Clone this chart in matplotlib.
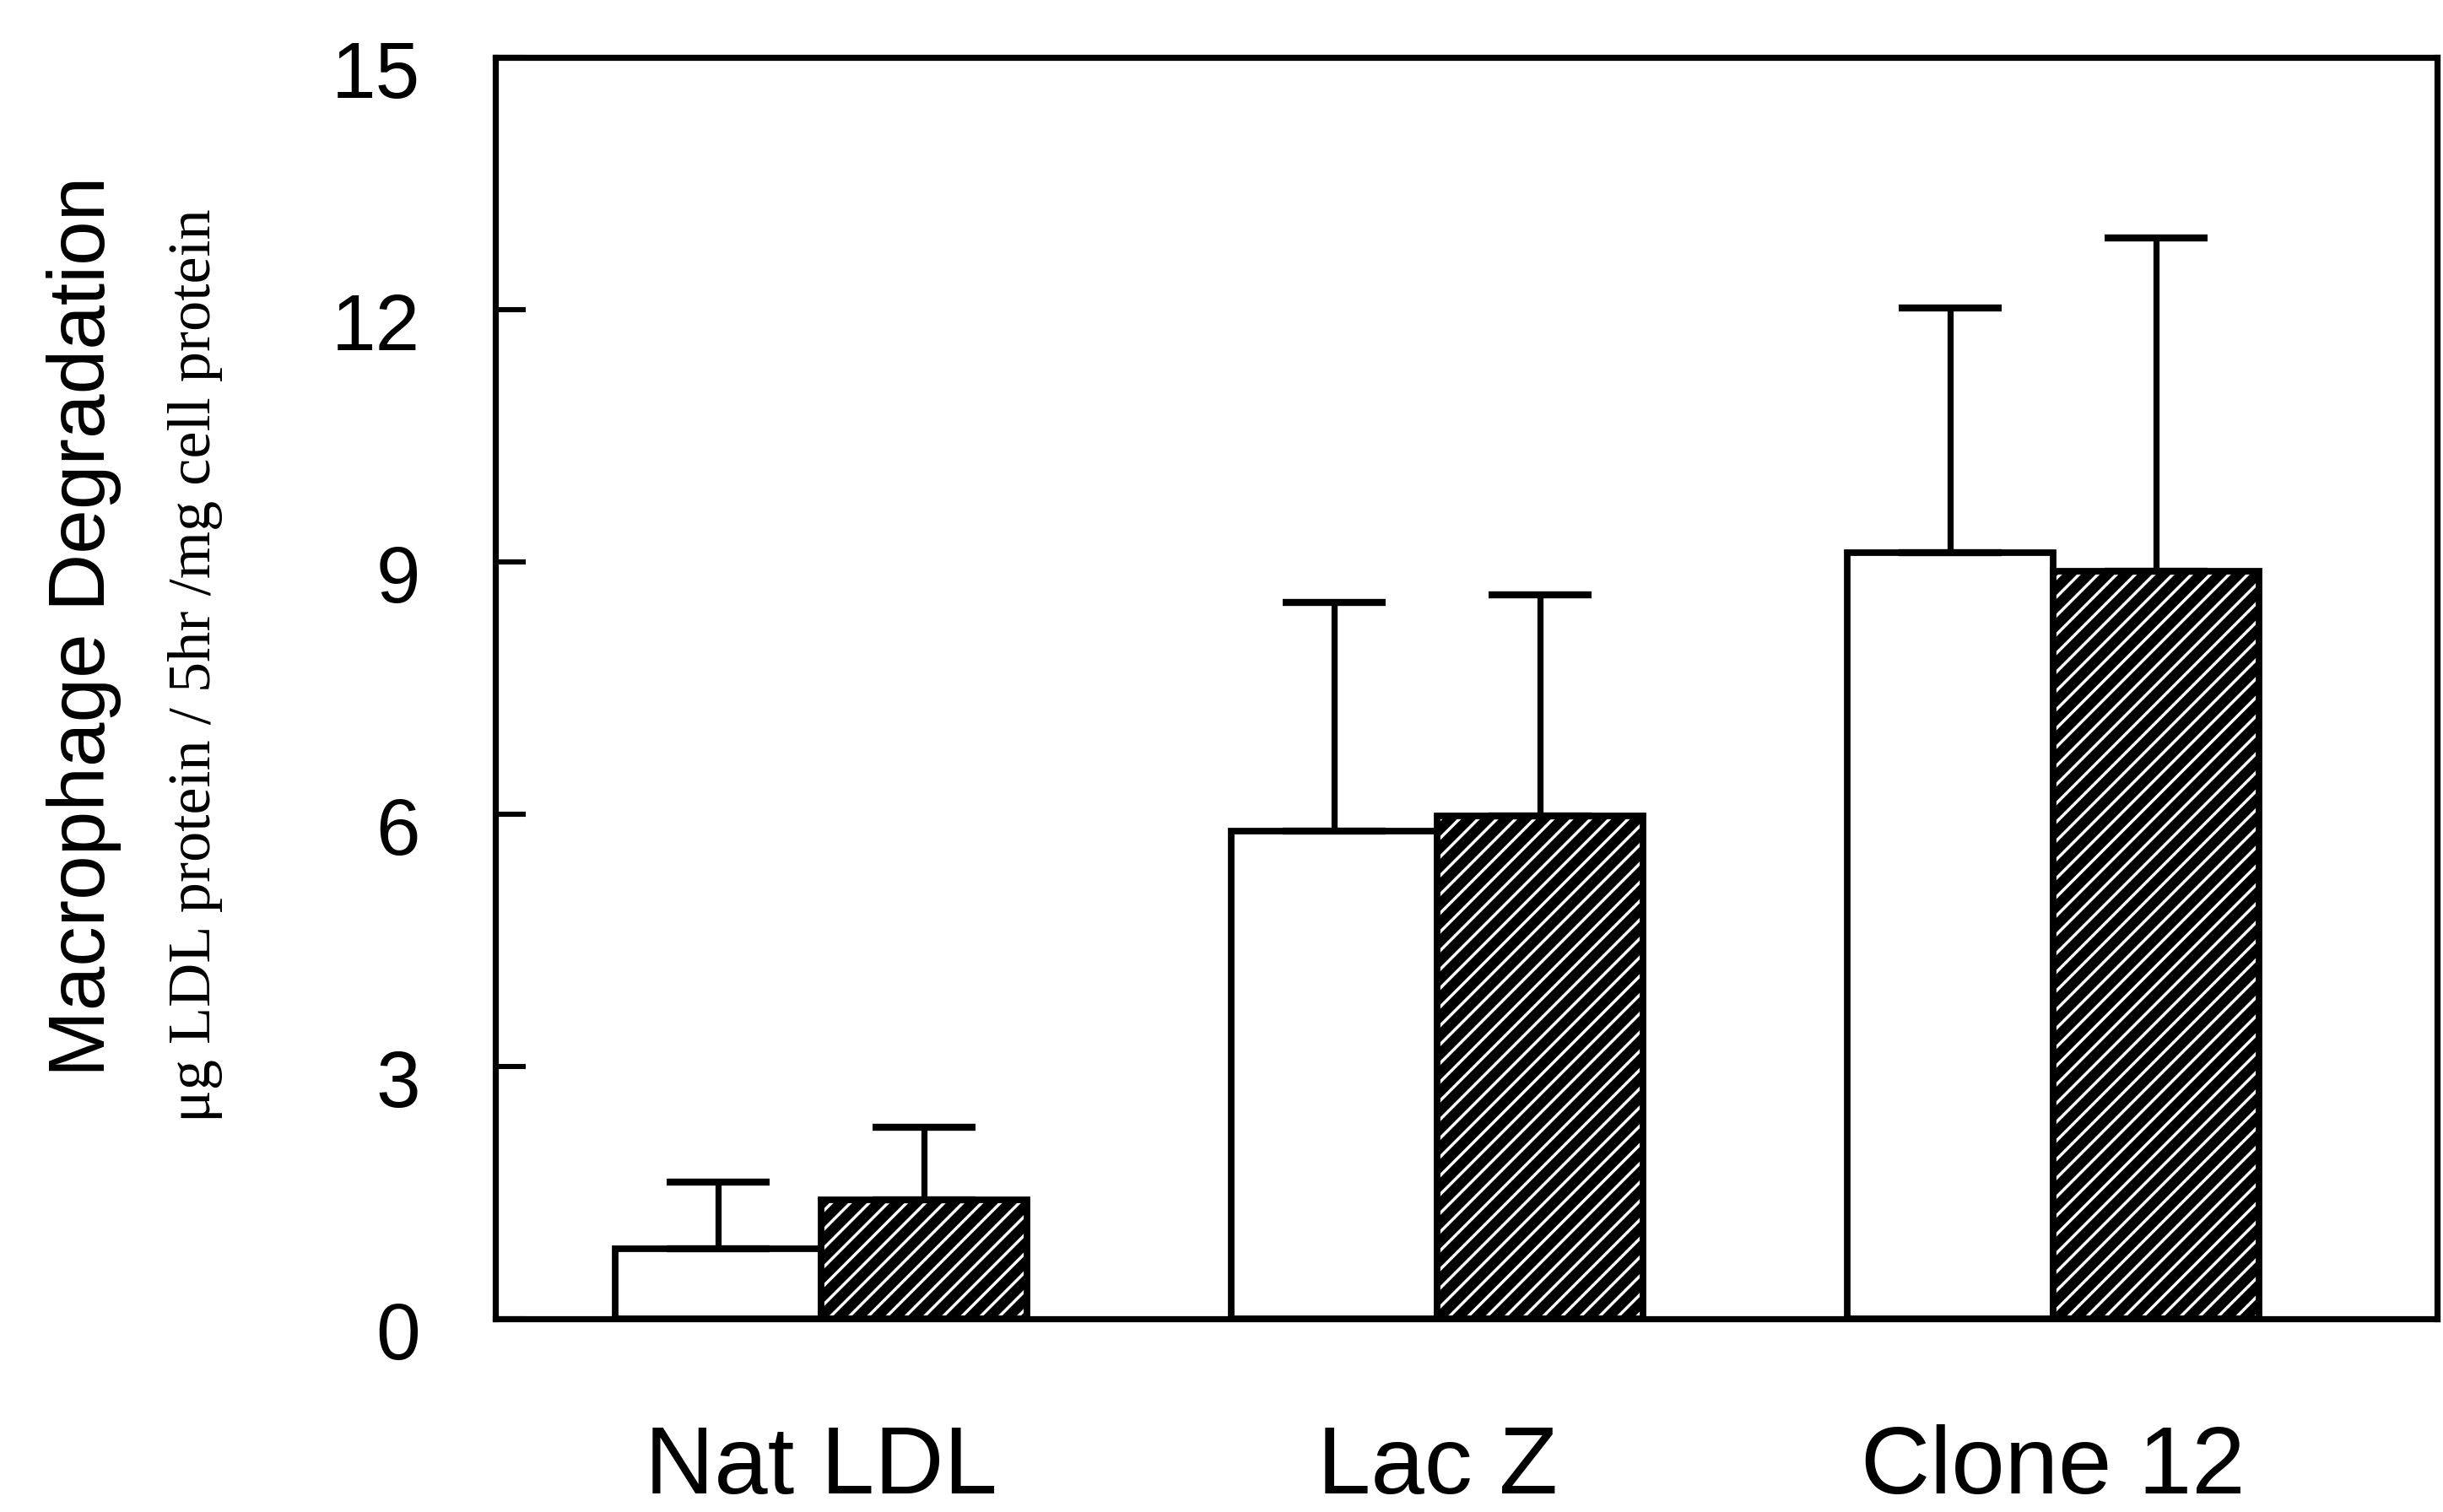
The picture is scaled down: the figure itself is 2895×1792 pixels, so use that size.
import matplotlib
matplotlib.use("Agg")
import matplotlib.pyplot as plt
import matplotlib.transforms as mtransforms
import numpy as np

# values
groups = ["Nat LDL", "Lac Z", "Clone 12"]
open_vals = [0.83, 5.80, 9.11]
open_err = [0.80, 2.72, 2.91]
hatch_vals = [1.41, 5.98, 8.89]
hatch_err = [0.87, 2.63, 3.96]
yticks = [0, 3, 6, 9, 12, 15]

plt.rcParams["hatch.linewidth"] = 4.4
plt.rcParams["font.family"] = ["Liberation Sans", "DejaVu Sans"]

fig = plt.figure(figsize=(14.475, 8.96), dpi=200)
ax = fig.add_axes([0.2028, 0.1278, 0.7948, 0.8342])

x = np.arange(len(groups))
w = 0.334
err_kw = dict(elinewidth=2.6, capthick=3.0, ecolor="black")

ax.bar(x - w / 2, open_vals, w, color="white", edgecolor="black", linewidth=2.8,
       yerr=[np.zeros(3), open_err], capsize=22, error_kw=err_kw, zorder=2)
ax.bar(x + w / 2, hatch_vals, w, color="white", edgecolor="black", linewidth=2.8,
       hatch="///", yerr=[np.zeros(3), hatch_err], capsize=22, error_kw=err_kw, zorder=2)

ax.set_xlim(-0.529, 2.623)
ax.set_ylim(0, 15)
ax.set_yticks(yticks)
ax.set_yticklabels([str(t) for t in yticks], fontsize=34)
ax.set_xticks(x)
ax.set_xticklabels(groups, fontsize=41)
ax.tick_params(axis="y", direction="in", length=13, width=2.2, pad=32)
ax.tick_params(axis="x", length=0, pad=45)

# labels in the scan sit a little below their ticks
offset = mtransforms.ScaledTranslation(0, -5 / 72, fig.dpi_scale_trans)
for lab in ax.get_yticklabels():
    lab.set_transform(lab.get_transform() + offset)

for s in ax.spines.values():
    s.set_linewidth(2.6)

fig.text(0.0345, 0.586, "Macrophage Degradation", rotation=90, fontsize=34,
         ha="center", va="center")
fig.text(0.0798, 0.56, "\u03bcg LDL protein / 5hr /mg cell protein", rotation=90,
         fontsize=26, family=["Liberation Serif", "DejaVu Serif"],
         ha="center", va="center")

fig.savefig("out.png", dpi=200)
